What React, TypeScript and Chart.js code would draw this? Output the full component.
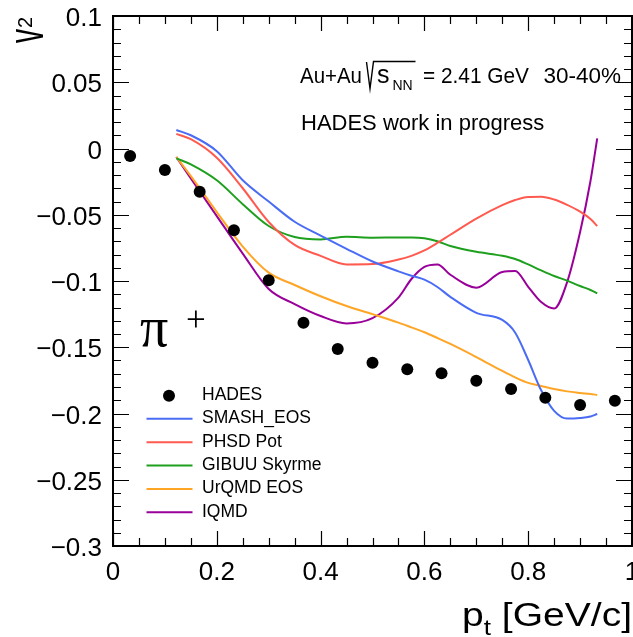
import React, { useEffect, useRef } from 'react';
import { Chart, registerables } from 'chart.js';

Chart.register(...registerables);

const SANS = '"Liberation Sans", Arial, Helvetica, sans-serif';
const SERIF = '"Liberation Serif", "Times New Roman", serif';

// ---- data ----
const hadesPt = [0.033, 0.1, 0.167, 0.233, 0.3, 0.367, 0.433, 0.5, 0.567, 0.633, 0.7, 0.767, 0.833, 0.9, 0.967];
const hadesV2 = [-0.0057, -0.0162, -0.0326, -0.0617, -0.0995, -0.1315, -0.1513, -0.1617, -0.1666, -0.1697, -0.1752, -0.1815, -0.1881, -0.1936, -0.1903];

const modelPt = [0.122, 0.15, 0.2, 0.25, 0.3, 0.35, 0.4, 0.45, 0.5, 0.55, 0.575, 0.6, 0.625, 0.65, 0.7, 0.75, 0.775, 0.8, 0.825, 0.85, 0.875, 0.9, 0.92, 0.933];
const smashV2 = [0.014, 0.010, -0.002, -0.024, -0.040, -0.0553, -0.0657, -0.0757, -0.0853, -0.0927, -0.096, -0.099, -0.1045, -0.112, -0.124, -0.1294, -0.139, -0.1596, -0.1825, -0.198, -0.2038, -0.2034, -0.2023, -0.2004];
const phsdV2 = [0.011, 0.007, -0.007, -0.030, -0.0555, -0.0728, -0.081, -0.0875, -0.0872, -0.0838, -0.081, -0.0769, -0.0713, -0.0651, -0.0529, -0.0428, -0.0389, -0.0366, -0.0364, -0.0385, -0.0426, -0.0477, -0.0532, -0.0585];
const gibuuV2 = [-0.0074, -0.012, -0.024, -0.042, -0.0585, -0.0668, -0.0686, -0.0666, -0.0673, -0.0672, -0.0672, -0.0678, -0.070, -0.0736, -0.078, -0.081, -0.0834, -0.0875, -0.092, -0.0962, -0.0997, -0.1038, -0.1068, -0.1093];
const urqmdV2 = [-0.0064, -0.0208, -0.048, -0.074, -0.0937, -0.103, -0.1115, -0.1189, -0.125, -0.1314, -0.135, -0.1387, -0.143, -0.1475, -0.1574, -0.1679, -0.1728, -0.1769, -0.1792, -0.1815, -0.1833, -0.1845, -0.1853, -0.186];
const iqmdV2 = [-0.0064, -0.0225, -0.051, -0.0793, -0.106, -0.1174, -0.1264, -0.132, -0.128, -0.1125, -0.0985, -0.0894, -0.0875, -0.0953, -0.105, -0.0932, -0.0925, -0.1044, -0.1159, -0.1208, -0.1008, -0.063, -0.0245, 0.0077];

const modelNames = ['SMASH_EOS', 'PHSD Pot', 'GIBUU Skyrme', 'UrQMD EOS', 'IQMD'];
const modelColors = ['#4a6cf5', '#ff5a4f', '#1ea01e', '#ffa526', '#990099'];
const modelSeries = [smashV2, phsdV2, gibuuV2, urqmdV2, iqmdV2];

const xTickValues = [0, 0.2, 0.4, 0.6, 0.8, 1];
const xTickLabels = ['0', '0.2', '0.4', '0.6', '0.8', '1'];
const yTickValues = [-0.3, -0.25, -0.2, -0.15, -0.1, -0.05, 0, 0.05, 0.1];
const yTickLabels = ['\u22120.3', '\u22120.25', '\u22120.2', '\u22120.15', '\u22120.1', '\u22120.05', '0', '0.05', '0.1'];

const decor = {
  id: 'decor',
  afterDraw(chart: any) {
    const { ctx, chartArea: a, scales } = chart;
    const xs = scales.x;
    const ys = scales.y;
    ctx.save();
    // frame
    ctx.strokeStyle = '#000';
    ctx.lineWidth = 2;
    ctx.strokeRect(a.left, a.top, a.right - a.left, a.bottom - a.top);
    // ticks (inside, all four sides)
    ctx.lineWidth = 1.2;
    ctx.beginPath();
    for (let i = 0; i <= 20; i++) {
      const px = Math.round(xs.getPixelForValue(i * 0.05)) + 0.5;
      const len = i % 4 === 0 ? 15 : 8;
      ctx.moveTo(px, a.bottom); ctx.lineTo(px, a.bottom - len);
      ctx.moveTo(px, a.top); ctx.lineTo(px, a.top + len);
    }
    for (let i = 0; i <= 40; i++) {
      const py = Math.round(ys.getPixelForValue(-0.3 + i * 0.01)) + 0.5;
      const len = i % 5 === 0 ? 16 : 8;
      ctx.moveTo(a.left, py); ctx.lineTo(a.left + len, py);
      ctx.moveTo(a.right, py); ctx.lineTo(a.right - len, py);
    }
    ctx.stroke();

    ctx.fillStyle = '#000';
    ctx.textBaseline = 'alphabetic';
    ctx.textAlign = 'left';

    // annotation line 1
    ctx.font = `22.5px ${SANS}`;
    ctx.fillText('Au+Au', 300, 83, 62);
    ctx.lineWidth = 1.4;
    ctx.beginPath();
    ctx.moveTo(366.5, 62);
    ctx.lineTo(370, 88.5);
    ctx.lineTo(373.5, 61.5);
    ctx.lineTo(415.5, 61.5);
    ctx.stroke();
    ctx.font = `25px ${SANS}`;
    ctx.fillText('s', 377, 83);
    ctx.font = `14px ${SANS}`;
    ctx.fillText('NN', 392.5, 90);
    ctx.font = `22.5px ${SANS}`;
    ctx.fillText('= 2.41 GeV', 423, 83, 106);
    ctx.textAlign = 'right';
    ctx.fillText('30-40%', 621, 83);
    ctx.textAlign = 'left';
    ctx.font = `22px ${SANS}`;
    ctx.fillText('HADES work in progress', 301, 130);

    // pi+
    ctx.font = `56px ${SERIF}`;
    ctx.fillText('\u03c0', 140, 346);
    ctx.font = `35px ${SERIF}`;
    ctx.fillText('+', 186, 331);

    // y title v_2 (rotated)
    ctx.save();
    ctx.translate(43.3, 43);
    ctx.rotate(-Math.PI / 2);
    ctx.save();
    ctx.scale(0.56, 1);
    ctx.font = `50px ${SANS}`;
    ctx.fillText('v', 0, 0);
    ctx.restore();
    ctx.font = `20px ${SANS}`;
    ctx.fillText('2', 15, -11);
    ctx.restore();

    // x title p_t [GeV/c]
    ctx.save();
    const big = `33px ${SANS}`;
    const small = `22px ${SANS}`;
    ctx.font = big; const wp = ctx.measureText('p').width;
    ctx.font = small; const wt = ctx.measureText('t').width;
    ctx.font = big; const wr = ctx.measureText(' [GeV/c]').width;
    const total = wp + wt + wr;
    const target = 170;
    const sx = target / total;
    ctx.translate(632 - target, 626);
    ctx.scale(sx, 1);
    ctx.font = big; ctx.fillText('p', 0, 0);
    ctx.font = small; ctx.fillText('t', wp, 9);
    ctx.font = big; ctx.fillText(' [GeV/c]', wp + wt, 0);
    ctx.restore();

    // legend
    const ds = chart.data.datasets;
    ctx.font = `17.5px ${SANS}`;
    ctx.textAlign = 'left';
    const base0 = 400;
    const step = 23.35;
    ds.forEach((d: any, i: number) => {
      const base = base0 + i * step;
      if (i === 0) {
        ctx.beginPath();
        ctx.arc(169, base - 4.3, 6, 0, Math.PI * 2);
        ctx.fillStyle = '#000';
        ctx.fill();
      } else {
        ctx.strokeStyle = d.borderColor;
        ctx.lineWidth = 2;
        ctx.beginPath();
        ctx.moveTo(146.5, base - 4.5);
        ctx.lineTo(192.5, base - 4.5);
        ctx.stroke();
      }
      ctx.fillStyle = '#000';
      ctx.fillText(d.label, 202, base);
    });
    ctx.restore();
  },
};

export default function App() {
  const ref = useRef<HTMLCanvasElement | null>(null);
  useEffect(() => {
    if (!ref.current) return;
    const datasets: any[] = [
      {
        label: 'HADES',
        data: hadesPt.map((x, i) => ({ x, y: hadesV2[i] })),
        showLine: false,
        pointRadius: 6,
        pointBackgroundColor: '#000',
        pointBorderColor: '#000',
        pointBorderWidth: 0,
        borderColor: '#000',
        backgroundColor: '#000',
      },
      ...modelNames.map((name, k) => ({
        label: name,
        data: modelPt.map((x, i) => ({ x, y: modelSeries[k][i] })),
        showLine: true,
        borderColor: modelColors[k],
        backgroundColor: modelColors[k],
        borderWidth: 2,
        pointRadius: 0,
        cubicInterpolationMode: 'monotone',
        fill: false,
      })),
    ];
    const chart = new Chart(ref.current, {
      type: 'scatter',
      data: { datasets },
      options: {
        responsive: false,
        animation: false,
        layout: { autoPadding: false, padding: { top: 16, right: 1, left: 0, bottom: 0 } },
        plugins: { legend: { display: false }, tooltip: { enabled: false } },
        scales: {
          x: {
            type: 'linear',
            min: 0,
            max: 1,
            grid: { display: false, drawTicks: false },
            border: { display: false },
            afterBuildTicks: (s: any) => { s.ticks = xTickValues.map((v) => ({ value: v })); },
            afterFit: (s: any) => { s.height = 91; s.paddingLeft = 0; s.paddingRight = 0; },
            ticks: {
              autoSkip: false,
              maxRotation: 0,
              padding: 11,
              color: '#000',
              font: { family: SANS, size: 26 },
              callback: (v: any) => xTickLabels[xTickValues.indexOf(Number(v))] ?? '',
            },
          },
          y: {
            type: 'linear',
            min: -0.3,
            max: 0.1,
            grid: { display: false, drawTicks: false },
            border: { display: false },
            afterBuildTicks: (s: any) => { s.ticks = yTickValues.map((v) => ({ value: v })); },
            afterFit: (s: any) => { s.width = 113; s.paddingTop = 0; s.paddingBottom = 0; },
            ticks: {
              autoSkip: false,
              padding: 11,
              labelOffset: 3,
              color: '#000',
              font: { family: SANS, size: 26 },
              callback: (v: any) => yTickLabels[yTickValues.indexOf(Number(v))] ?? '',
            },
          },
        },
      } as any,
      plugins: [decor],
    });
    return () => chart.destroy();
  }, []);
  return (
    <div style={{ position: 'fixed', left: 0, top: 0, width: 633, height: 637, background: '#fff' }}>
      <canvas ref={ref} width={633} height={637} style={{ display: 'block', width: 633, height: 637 }} />
    </div>
  );
}
